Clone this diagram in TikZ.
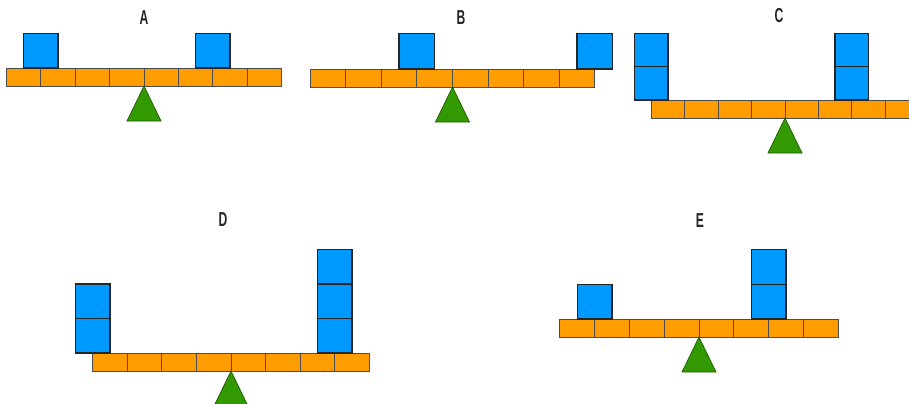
\documentclass[tikz,border=0pt]{standalone}
\usepackage{fontspec}
\setmainfont{Liberation Sans}
\definecolor{BeamOrange}{HTML}{FF9C00}
\definecolor{BlockBlue}{HTML}{0099FF}
\definecolor{PivotGreen}{HTML}{339900}

\begin{document}
\begin{tikzpicture}[x=0.02cm, y=-0.02cm,
    beamcell/.style={draw=black!70, fill=BeamOrange, line width=0.5pt},
    weight/.style={draw=black!85, fill=BlockBlue, line width=0.8pt},
    pivot/.style={draw=PivotGreen!60!black, fill=PivotGreen, line width=0.4pt},
    tag/.style={font=\fontsize{11.5}{12}\selectfont\bfseries, text=black!85, inner sep=0pt}]
    \useasboundingbox (0,0) rectangle (909,403);
    \clip (0,0) rectangle (909,403);
    % beams and pivots: centre/top/cell width
    \foreach \cx/\top/\w in {144/68/34.4, 452.5/69/35.6, 785/100/33.4, 231/353/34.6, 699/319/34.8} {
      \foreach \i in {0,...,7} {
        \draw[beamcell] (\cx-4*\w+\i*\w, \top) rectangle ++(\w, 18);
      }
      \draw[pivot] (\cx, \top+18) -- (\cx+17, \top+53) -- (\cx-17, \top+53) -- cycle;
    }
    % weights: centre/top/cell width/distance/count
    \foreach \cx/\top/\w/\d/\n in {144/68/34.4/-3/1, 144/68/34.4/2/1,
        452.5/69/35.6/-1/1, 452.5/69/35.6/4/1,
        785/100/33.4/-4/2, 785/100/33.4/2/2,
        231/353/34.6/-4/2, 231/353/34.6/3/3,
        699/319/34.8/-3/1, 699/319/34.8/2/2} {
      \foreach \k in {1,...,\n} {
        \draw[weight] (\cx+\d*\w-\w/2, \top-\k*\w) rectangle ++(\w, \w);
      }
    }
    \foreach \lbl/\x/\y in {A/144/18, B/461/18, C/779/16, D/223/220, E/700/221} {
      \node[tag] (seesaw\lbl) at (\x, \y) {\scalebox{0.6}[1]{\lbl}};
    }
  \end{tikzpicture}
\end{document}
